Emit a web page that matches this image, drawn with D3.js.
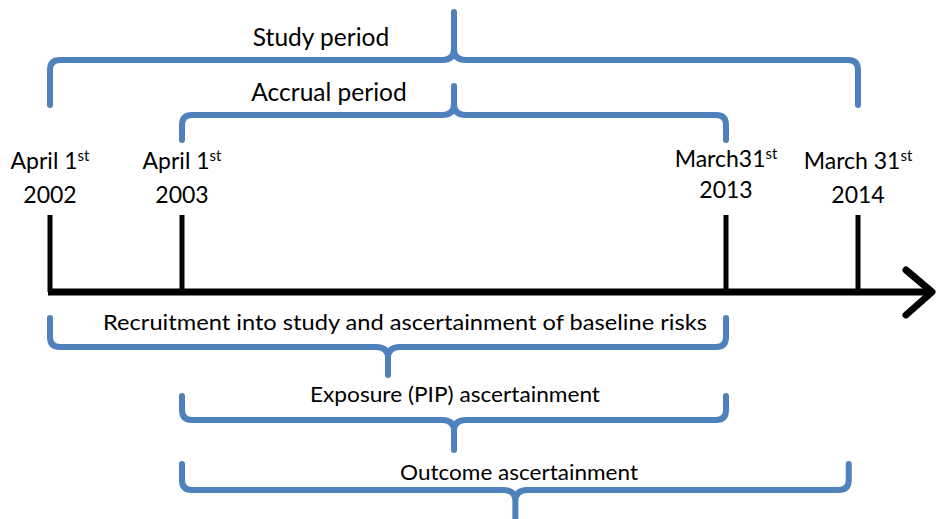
<!DOCTYPE html>
<html lang="en">
<head>
<meta charset="UTF-8">
<title>Study timeline</title>
<script src="https://d3js.org/d3.v7.min.js"></script>
<style>
  body { margin: 0; background: #fff; }
  text { font-family: Lato, "Open Sans", sans-serif; fill: #000; }
</style>
</head>
<body>
<svg id="chart"></svg>
<script>
// timeline points (index positions on the axis)
var tickKeys = [0, 1, 2, 3];
var tickMonth = ["April 1", "April 1", "March31", "March 31"];
var tickYear = ["2002", "2003", "2013", "2014"];

// braces above the axis
var topBraces = ["Study period", "Accrual period"];
var topFrom = [0, 1];
var topTo = [3, 2];

// braces below the axis
var lowBraces = ["Recruitment into study and ascertainment of baseline risks",
                 "Exposure (PIP) ascertainment",
                 "Outcome ascertainment"];
var lowFrom = [0, 1, 1];
var lowTo = [2, 2, 2.93];

var width = 944, height = 519;
var blue = "#4f81bd";

var svg = d3.select("#chart").attr("width", width).attr("height", height);

// polylinear scale: the picture isn't proportional to time
var x = d3.scaleLinear().domain(tickKeys).range([50, 182, 726, 858]);

var axisY = 292;

// brace path: ends go from yEnd to the bar at yBar, cusp at the middle points to yTip
function brace(x0, x1, yEnd, yBar, yTip) {
  var dir = yEnd < yBar ? 1 : -1;   // which way the ends point
  var r = 10, c = 12, k = 11;
  var xm = (x0 + x1) / 2;
  var p = d3.path();
  p.moveTo(x0, yEnd);
  p.lineTo(x0, yBar - dir * r);
  p.quadraticCurveTo(x0, yBar, x0 + r, yBar);
  p.lineTo(xm - c, yBar);
  p.quadraticCurveTo(xm, yBar, xm, yBar + dir * k);
  p.lineTo(xm, yTip);
  p.moveTo(x1, yEnd);
  p.lineTo(x1, yBar - dir * r);
  p.quadraticCurveTo(x1, yBar, x1 - r, yBar);
  p.lineTo(xm + c, yBar);
  p.quadraticCurveTo(xm, yBar, xm, yBar + dir * k);
  return p.toString();
}

// main axis with arrow
svg.append("line")
  .attr("x1", x(0) - 2).attr("x2", 930)
  .attr("y1", axisY).attr("y2", axisY)
  .attr("stroke", "#000").attr("stroke-width", 7);
svg.append("path")
  .attr("d", "M906,270L932," + axisY + "L906,315")
  .attr("fill", "none").attr("stroke", "#000")
  .attr("stroke-width", 7).attr("stroke-linecap", "round").attr("stroke-linejoin", "round");

// tick lines
svg.selectAll(".tick").data(tickKeys).enter().append("line")
  .attr("class", "tick")
  .attr("x1", function(d) { return x(d); }).attr("x2", function(d) { return x(d); })
  .attr("y1", 215).attr("y2", axisY)
  .attr("stroke", "#000").attr("stroke-width", 5);

// date labels
var lab = svg.selectAll(".date").data(tickKeys).enter().append("g").attr("class", "date");
var t1 = lab.append("text")
  .attr("x", function(d) { return x(d); })
  .attr("y", function(d) { return d === 2 ? 167 : 169; })
  .attr("text-anchor", "middle")
  .style("font-size", "23px");
t1.append("tspan").text(function(d, i) { return tickMonth[i]; });
t1.append("tspan").attr("dy", -8).style("font-size", "15px").text("st");
lab.append("text")
  .attr("x", function(d) { return x(d); })
  .attr("y", function(d) { return d === 2 ? 198 : 203; })
  .attr("text-anchor", "middle")
  .style("font-size", "23px")
  .text(function(d, i) { return tickYear[i]; });

// braces above
var topBar = [60, 115], topEnd = [105, 140], topTip = [12, 86], topText = [46, 101];
topBraces.forEach(function(name, i) {
  svg.append("path")
    .attr("d", brace(x(topFrom[i]), x(topTo[i]), topEnd[i], topBar[i], topTip[i]))
    .attr("fill", "none").attr("stroke", blue).attr("stroke-width", 6)
    .attr("stroke-linecap", "round");
  svg.append("text")
    .attr("x", 321 + i * 8).attr("y", topText[i])
    .attr("text-anchor", "middle")
    .style("font-size", "24.5px")
    .text(name);
});

// braces below
var lowBar = [347, 420, 490], lowEnd = [318, 396, 464], lowTip = [375, 450, 530], lowText = [330, 402, 480];
var lowTextX = [405, 455, 519], lowTextLen = [604, 290, 238];
lowBraces.forEach(function(name, i) {
  svg.append("path")
    .attr("d", brace(x(lowFrom[i]), x(lowTo[i]), lowEnd[i], lowBar[i], lowTip[i]))
    .attr("fill", "none").attr("stroke", blue).attr("stroke-width", 6)
    .attr("stroke-linecap", "round");
  svg.append("text")
    .attr("x", lowTextX[i]).attr("y", lowText[i])
    .attr("text-anchor", "middle")
    .attr("textLength", lowTextLen[i])
    .attr("lengthAdjust", "spacingAndGlyphs")
    .style("font-size", "22px")
    .text(name);
});
</script>
</body>
</html>
